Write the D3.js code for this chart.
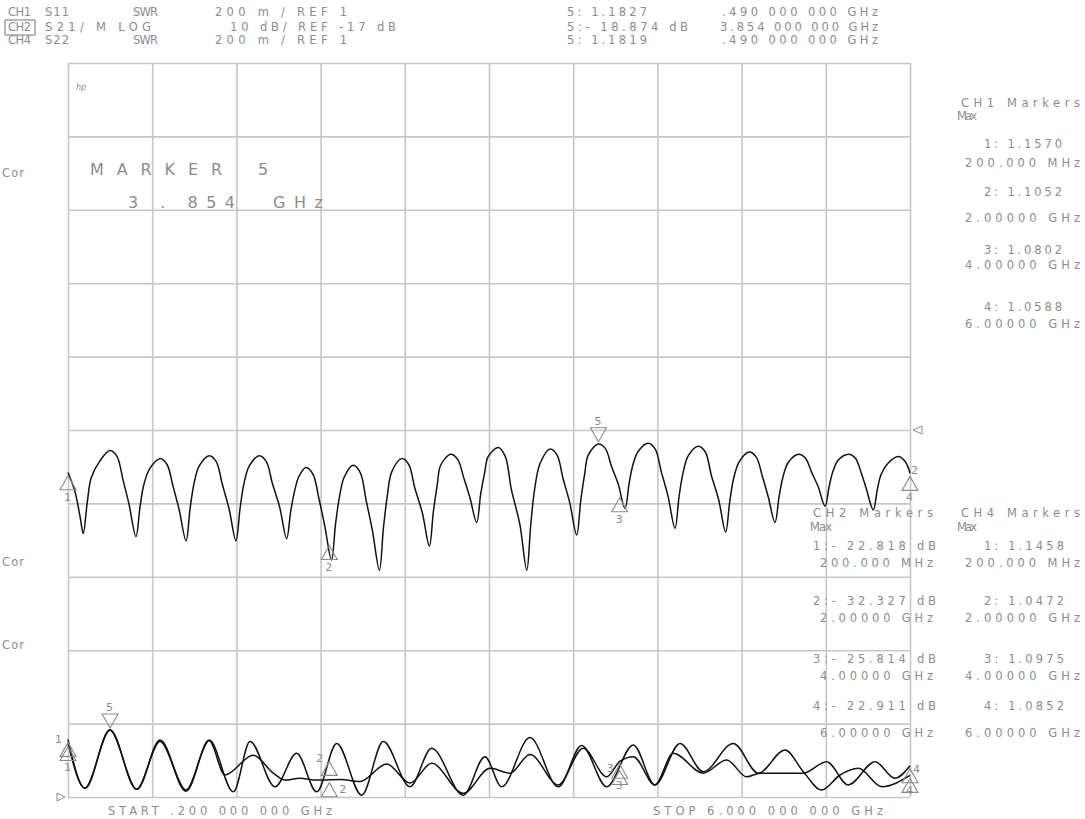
<!DOCTYPE html>
<html>
<head>
<meta charset="utf-8">
<script src="https://cdn.jsdelivr.net/npm/d3@7"></script>
<style>
  body { margin: 0; background: #fff; }
  svg text { font-family: "DejaVu Sans", sans-serif; fill: #8c8c8c; }
</style>
</head>
<body>
<svg id="chart" width="1085" height="819"></svg>
<script>
// ---- data ----
const freqRange = [0.2, 6.0]; // GHz, start / stop
const ch2Scale = { perDiv: 10, ref: -17, refPos: 5 }; // dB
const swrScale = { perDiv: 0.2, ref: 1, refPos: 0 };

// S21 log mag [GHz, dB]
const ch2Trace = [
  [0.2,-22.8],[0.248,-25.4],[0.283,-28.8],[0.305,-31.1],
  [0.333,-26.8],[0.360,-23.5],[0.420,-21.2],[0.489,-19.8],[0.537,-20.6],[0.579,-23.8],[0.620,-27.1],[0.668,-31.5],
  [0.696,-27.5],[0.723,-24.4],[0.765,-22.2],[0.834,-20.9],[0.882,-21.7],[0.924,-24.7],[0.965,-27.8],[1.013,-32.1],
  [1.041,-27.7],[1.068,-24.3],[1.104,-21.9],[1.173,-20.5],[1.221,-21.3],[1.263,-24.4],[1.309,-27.7],[1.357,-32.1],
  [1.385,-27.7],[1.412,-24.3],[1.449,-21.9],[1.518,-20.5],[1.566,-21.3],[1.608,-24.3],[1.658,-27.5],[1.706,-31.8],
  [1.734,-28.1],[1.761,-25.3],[1.791,-23.3],[1.839,-22.1],[1.887,-23.0],[1.929,-26.4],[1.967,-29.9],[2.015,-34.7],
  [2.043,-29.8],[2.070,-26.1],[2.103,-23.4],[2.165,-21.8],[2.213,-22.8],[2.255,-26.7],[2.297,-30.7],[2.345,-36.1],
  [2.373,-30.3],[2.400,-25.9],[2.430,-22.7],[2.499,-20.9],[2.547,-21.7],[2.589,-24.9],[2.641,-28.3],[2.689,-32.8],
  [2.717,-28.1],[2.744,-24.4],[2.767,-21.8],[2.836,-20.3],[2.884,-21.0],[2.926,-23.5],[2.967,-26.1],[3.015,-29.6],
  [3.043,-25.7],[3.070,-22.8],[3.095,-20.6],[3.164,-19.4],[3.212,-20.6],[3.254,-25.1],[3.312,-29.8],[3.360,-36.1],
  [3.388,-29.8],[3.415,-25.0],[3.451,-21.6],[3.520,-19.6],[3.568,-20.4],[3.610,-23.6],[3.656,-26.9],[3.704,-31.3],
  [3.732,-26.6],[3.759,-23.0],[3.784,-20.4],[3.853,-18.9],[3.901,-19.5],[3.943,-21.9],[3.989,-24.3],[4.037,-27.7],
  [4.065,-24.3],[4.092,-21.7],[4.128,-19.9],[4.197,-18.8],[4.245,-19.6],[4.287,-22.7],[4.333,-26.0],[4.381,-30.4],
  [4.409,-26.1],[4.436,-22.9],[4.473,-20.5],[4.542,-19.2],[4.590,-20.0],[4.632,-23.2],[4.682,-26.5],[4.730,-30.9],
  [4.758,-26.8],[4.785,-23.6],[4.824,-21.3],[4.893,-20.0],[4.941,-20.7],[4.983,-23.3],[5.022,-26.0],[5.070,-29.6],
  [5.098,-26.1],[5.125,-23.4],[5.162,-21.4],[5.231,-20.3],[5.279,-20.8],[5.321,-22.7],[5.367,-24.7],[5.415,-27.4],
  [5.443,-24.7],[5.470,-22.6],[5.506,-21.1],[5.575,-20.3],[5.623,-20.8],[5.665,-22.9],[5.699,-25.0],[5.747,-27.9],
  [5.775,-25.1],[5.802,-23.0],[5.850,-21.5],[5.919,-20.6],[5.967,-21.3],[6.0,-22.9]
];

// S11 SWR [GHz, SWR]
const ch1Trace = [
  [0.200,1.157],[0.317,1.024],[0.489,1.183],[0.673,1.021],[0.834,1.155],[1.013,1.019],[1.173,1.155],
  [1.339,1.014],[1.454,1.151],[1.626,1.028],[1.775,1.119],[1.913,1.014],[2.051,1.146],[2.223,1.005],
  [2.372,1.151],[2.556,1.028],[2.705,1.133],[2.923,1.005],[3.072,1.110],[3.187,1.028],[3.382,1.162],
  [3.577,1.028],[3.738,1.140],[3.911,1.028],[4.094,1.142],[4.243,1.033],[4.416,1.146],[4.576,1.069],
  [4.783,1.146],[4.955,1.065],[5.139,1.128],[5.265,1.069],[5.391,1.019],[5.518,1.060],[5.644,1.078],
  [5.805,1.028],[6.0,1.0588]
];

// S22 SWR [GHz, SWR]
const ch4Trace = [
  [0.200,1.146],[0.317,1.024],[0.489,1.182],[0.673,1.021],[0.834,1.151],[1.013,1.016],[1.173,1.153],
  [1.281,1.060],[1.476,1.114],[1.614,1.065],[1.695,1.046],[1.798,1.051],[1.913,1.046],[2.074,1.048],
  [2.211,1.042],[2.395,1.090],[2.556,1.038],[2.705,1.092],[2.923,1.010],[3.107,1.078],[3.245,1.065],
  [3.382,1.116],[3.577,1.033],[3.749,1.133],[3.911,1.055],[4.002,1.0975],[4.094,1.110],[4.243,1.033],
  [4.369,1.119],[4.576,1.065],[4.737,1.101],[4.875,1.055],[4.967,1.065],[5.265,1.065],[5.426,1.096],
  [5.575,1.033],[5.759,1.096],[5.896,1.051],[6.0,1.0852]
];

// markers
const markerFreqs = [0.2, 2.0, 4.0, 6.0];
const ch1MarkerVals = [1.1570, 1.1052, 1.0802, 1.0588];
const ch2MarkerVals = [-22.818, -32.327, -25.814, -22.911];
const ch4MarkerVals = [1.1458, 1.0472, 1.0975, 1.0852];
const marker5 = { ch1: [0.49, 1.1827], ch2: [3.854, -18.874], ch4: [0.49, 1.1819] };

// header text
const headerLeft = [
  ["CH1", "S11", "SWR", "200 m / REF 1"],
  ["CH2", "S21/ M LOG", "", "10 dB/ REF -17 dB"],
  ["CH4", "S22", "SWR", "200 m / REF 1"]
];
const headerRight = [
  ["5: 1.1827", ".490 000 000 GHz"],
  ["5:- 18.874 dB", "3.854 000 000 GHz"],
  ["5: 1.1819", ".490 000 000 GHz"]
];

// ---- drawing ----
const svg = d3.select("#chart");
const plot = { left: 68, right: 910, top: 63, bottom: 797 };

const x = d3.scaleLinear().domain(freqRange).range([plot.left, plot.right]);
const yLog = d3.scaleLinear()
  .domain([ch2Scale.ref - ch2Scale.refPos * ch2Scale.perDiv, ch2Scale.ref + (10 - ch2Scale.refPos) * ch2Scale.perDiv])
  .range([plot.bottom, plot.top]);
const ySwr = d3.scaleLinear()
  .domain([swrScale.ref - swrScale.refPos * swrScale.perDiv, swrScale.ref + (10 - swrScale.refPos) * swrScale.perDiv])
  .range([plot.bottom, plot.top]);

const gridColor = "#c6c6c6";

// graticule, 10 x 10 divisions
const xTicks = d3.range(11).map((i) => freqRange[0] + (i * (freqRange[1] - freqRange[0])) / 10);
const yTicks = d3.range(11).map((i) => yLog.domain()[0] + i * ch2Scale.perDiv);

svg.append("g")
  .attr("transform", `translate(0,${plot.bottom})`)
  .call(d3.axisBottom(x).tickValues(xTicks).tickSize(-(plot.bottom - plot.top)).tickFormat(""))
  .call((g) => g.select(".domain").remove())
  .call((g) => g.selectAll("line").attr("stroke", gridColor).attr("stroke-width", 1.6));

svg.append("g")
  .attr("transform", `translate(${plot.left},0)`)
  .call(d3.axisLeft(yLog).tickValues(yTicks).tickSize(-(plot.right - plot.left)).tickFormat(""))
  .call((g) => g.select(".domain").remove())
  .call((g) => g.selectAll("line").attr("stroke", gridColor).attr("stroke-width", 1.6));

// traces
const lineLog = d3.line().x((d) => x(d[0])).y((d) => yLog(d[1])).curve(d3.curveCatmullRom.alpha(0.5));
const lineSwr = d3.line().x((d) => x(d[0])).y((d) => ySwr(d[1])).curve(d3.curveMonotoneX);

svg.append("path").datum(ch4Trace).attr("d", lineSwr)
  .attr("fill", "none").attr("stroke", "#111").attr("stroke-width", 1.5);
svg.append("path").datum(ch1Trace).attr("d", lineSwr)
  .attr("fill", "none").attr("stroke", "#111").attr("stroke-width", 1.5);
svg.append("path").datum(ch2Trace).attr("d", lineLog)
  .attr("fill", "none").attr("stroke", "#111").attr("stroke-width", 1.5);

// text helper
function label(s, px, py, size, width) {
  const t = svg.append("text").attr("x", px).attr("y", py).style("font-size", size + "px").text(s);
  if (width) t.attr("textLength", width).attr("lengthAdjust", "spacing");
  return t;
}

// marker symbols
const mkStroke = "#8a8a8a";
function upMarker(px, py, num, dx, dy) {
  svg.append("path")
    .attr("d", `M${px},${py + 3}L${px - 8},${py + 17}L${px + 8},${py + 17}Z`)
    .attr("fill", "none").attr("stroke", mkStroke).attr("stroke-width", 1.1);
  label(num, px + dx, py + dy, 11);
}
function downMarker(px, py, num) {
  svg.append("path")
    .attr("d", `M${px},${py - 2}L${px - 8},${py - 16}L${px + 8},${py - 16}Z`)
    .attr("fill", "none").attr("stroke", mkStroke).attr("stroke-width", 1.1);
  label(num, px - 4, py - 19, 11);
}

markerFreqs.forEach((f, i) => {
  const n = String(i + 1);
  upMarker(x(f), yLog(ch2MarkerVals[i]), n, -4, 28);
  // S11 number sits beside the symbol, S22 number below it
  upMarker(x(f), ySwr(ch1MarkerVals[i]), n, i === 3 ? 3 : -13, i === 3 ? -2 : 4);
  if (i === 1) upMarker(x(f), ySwr(ch4MarkerVals[i]), n, 10, 13);
  else upMarker(x(f), ySwr(ch4MarkerVals[i]), n, -4, 28);
});
label("2", x(6.0) + 1, yLog(ch2MarkerVals[3]) + 1, 11);
downMarker(x(marker5.ch2[0]), yLog(marker5.ch2[1]), "5");
downMarker(x(marker5.ch1[0]), ySwr(marker5.ch1[1]), "5");

// reference position arrows
svg.append("path")
  .attr("d", `M${plot.right + 3},${yLog(ch2Scale.ref)}L${plot.right + 12},${yLog(ch2Scale.ref) - 4}L${plot.right + 12},${yLog(ch2Scale.ref) + 4}Z`)
  .attr("fill", "none").attr("stroke", mkStroke);
svg.append("path")
  .attr("d", `M${plot.left - 3},${ySwr(swrScale.ref)}L${plot.left - 11},${ySwr(swrScale.ref) - 4}L${plot.left - 11},${ySwr(swrScale.ref) + 4}Z`)
  .attr("fill", "none").attr("stroke", mkStroke);

// header
const hdrY = [16, 31, 44];
const hdrX = [8, 45, 133, 215];
const hdrW = [23, null, 25, 132];
headerLeft.forEach((row, r) => {
  row.forEach((s, c) => {
    if (!s) return;
    let w = hdrW[c];
    let px = hdrX[c];
    if (c === 1) w = s.length > 4 ? 106 : 24;
    if (c === 3 && r === 1) { px = 230; w = 166; }
    label(s, px, hdrY[r], 11.5, w);
  });
  label(headerRight[r][0], 567, hdrY[r], 11.5, r === 1 ? 121 : 80);
  label(headerRight[r][1], headerRight[r][1].startsWith(".") ? 722 : 720, hdrY[r], 11.5, headerRight[r][1].startsWith(".") ? 156 : 158);
});
svg.append("rect").attr("x", 5).attr("y", 20).attr("width", 30).attr("height", 15)
  .attr("fill", "none").attr("stroke", mkStroke).attr("stroke-width", 1.2);

// hp logo and Cor flags
label("hp", 76, 90, 8).style("font-style", "italic");
[177, 566, 649].forEach((py) => label("Cor", 2, py, 11.5, 22));

// big marker readout
label("MARKER", 90, 175, 16, 132);
label("5", 258, 175, 16);
label("3 . 854", 128, 208, 16, 107);
label("GHz", 273, 208, 16, 50);

// marker tables
const fmtFreq = (f) => (f < 1 ? (f * 1000).toFixed(3) + " MHz" : f.toFixed(5) + " GHz");

label("CH1 Markers", 961, 107, 11.5, 119);
label("Max", 957, 120, 11.5, 20);
const ch1Y = [[148, 167], [196, 222], [254, 269], [311, 328]];
ch1MarkerVals.forEach((v, i) => {
  label(`${i + 1}: ${v.toFixed(4)}`, 984, ch1Y[i][0], 11.5, 78);
  label(fmtFreq(markerFreqs[i]), 965, ch1Y[i][1], 11.5, 115);
});

const tblY = [[550, 567], [605, 622], [663, 680], [710, 737]];
label("CH2 Markers", 813, 517, 11.5, 120);
label("Max", 810, 531, 11.5, 22);
ch2MarkerVals.forEach((v, i) => {
  label(`${i + 1}:- ${Math.abs(v).toFixed(3)} dB`, 813, tblY[i][0], 11.5, 123);
  label(fmtFreq(markerFreqs[i]), 820, tblY[i][1], 11.5, 113);
});

label("CH4 Markers", 961, 517, 11.5, 119);
label("Max", 957, 531, 11.5, 20);
ch4MarkerVals.forEach((v, i) => {
  label(`${i + 1}: ${v.toFixed(4)}`, 984, tblY[i][0], 11.5, 80);
  label(fmtFreq(markerFreqs[i]), 965, tblY[i][1], 11.5, 115);
});

// start / stop
label("START .200 000 000 GHz", 108, 815, 11.5, 224);
label("STOP 6.000 000 000 GHz", 653, 815, 11.5, 230);
</script>
</body>
</html>
